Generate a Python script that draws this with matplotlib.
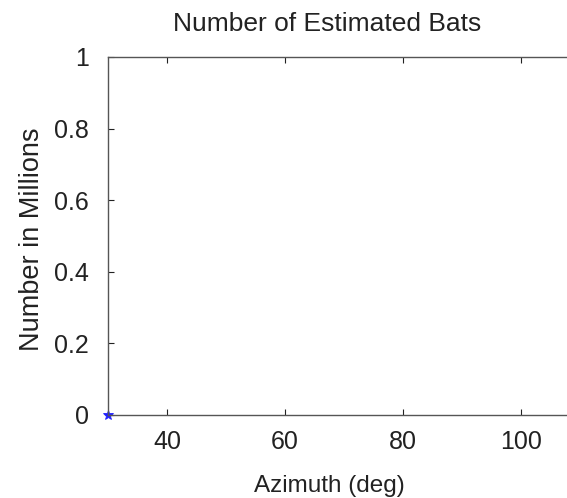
import numpy as np
import matplotlib.pyplot as plt

plt.rcParams['font.family'] = ['Liberation Sans', 'DejaVu Sans']

# data: a single estimate at the start of the sweep
azimuth = [30]
bats_millions = [0]

x_ticks = [40, 60, 80, 100]
y_ticks = [0, 0.2, 0.4, 0.6, 0.8, 1]


def main():
    fig = plt.figure(figsize=(5.67, 4.98), dpi=100)
    # axes run past the right edge of the picture, as in the reference crop
    ax = fig.add_axes([0.1905, 0.1667, 0.8325, 0.7189])

    ax.plot(azimuth, bats_millions, '*', color='#2020ff', ms=7, mew=0.6, clip_on=False)

    ax.set_xlim(30, 110)
    ax.set_ylim(0, 1)
    ax.set_xticks(x_ticks)
    ax.set_yticks(y_ticks)
    ax.set_yticklabels(['0', '0.2', '0.4', '0.6', '0.8', '1'])

    ax.tick_params(direction='in', length=4, width=0.8, top=True, right=True,
                   labelsize=18, colors='#222222')
    ax.tick_params(axis='x', pad=11)
    ax.tick_params(axis='y', pad=14)
    for s in ax.spines.values():
        s.set_color('#555555')
        s.set_linewidth(1.0)

    ax.set_title('Number of Estimated Bats', fontsize=19, x=0.464, pad=19, color='#222222')
    ax.set_xlabel('Azimuth (deg)', fontsize=17.5, color='#222222')
    ax.xaxis.set_label_coords(0.468, -0.168)
    ax.set_ylabel('Number in Millions', fontsize=19.5, color='#222222')
    ax.yaxis.set_label_coords(-0.133, 0.49)

    fig.savefig('out.png', dpi=100)


if __name__ == "__main__":
    main()
